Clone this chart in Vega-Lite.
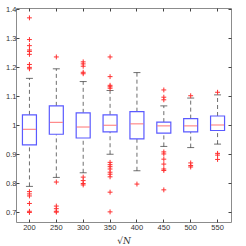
{
  "$schema": "https://vega.github.io/schema/vega-lite/v6.json",
  "width": 215,
  "height": 214,
  "autosize": "none",
  "padding": {"left": 16, "top": 8, "right": 15, "bottom": 24},
  "background": "white",
  "config": {
    "view": {"stroke": "#8c8c8c", "strokeWidth": 1},
    "axis": {"labelFont": "Liberation Sans", "labelFontSize": 7.5, "labelColor": "#333", "tickColor": "#444", "domain": false, "grid": false, "tickSize": -3}
  },
  "datasets": {
    "boxes": [
      {"N": "200", "lo": 0.789, "q1": 0.932, "med": 0.986, "q3": 1.036, "hi": 1.162},
      {"N": "250", "lo": 0.820, "q1": 0.969, "med": 1.010, "q3": 1.067, "hi": 1.195},
      {"N": "300", "lo": 0.836, "q1": 0.956, "med": 0.994, "q3": 1.043, "hi": 1.151},
      {"N": "350", "lo": 0.900, "q1": 0.977, "med": 1.000, "q3": 1.036, "hi": 1.120},
      {"N": "400", "lo": 0.843, "q1": 0.953, "med": 1.005, "q3": 1.047, "hi": 1.182},
      {"N": "450", "lo": 0.927, "q1": 0.973, "med": 0.998, "q3": 1.011, "hi": 1.067},
      {"N": "500", "lo": 0.923, "q1": 0.977, "med": 0.998, "q3": 1.023, "hi": 1.094},
      {"N": "550", "lo": 0.935, "q1": 0.982, "med": 1.001, "q3": 1.032, "hi": 1.105}
    ],
    "outliers": [
      {"N": "200", "v": 1.371}, {"N": "200", "v": 1.296}, {"N": "200", "v": 1.275}, {"N": "200", "v": 1.26}, {"N": "200", "v": 1.255}, {"N": "200", "v": 1.245}, {"N": "200", "v": 1.21}, {"N": "200", "v": 1.2}, {"N": "200", "v": 1.195}, {"N": "200", "v": 0.771}, {"N": "200", "v": 0.763}, {"N": "200", "v": 0.756}, {"N": "200", "v": 0.730}, {"N": "200", "v": 0.703}, {"N": "200", "v": 0.699},
      {"N": "250", "v": 1.236}, {"N": "250", "v": 0.804}, {"N": "250", "v": 0.721}, {"N": "250", "v": 0.712}, {"N": "250", "v": 0.703}, {"N": "250", "v": 0.700},
      {"N": "300", "v": 1.219}, {"N": "300", "v": 1.212}, {"N": "300", "v": 1.204}, {"N": "300", "v": 1.183}, {"N": "300", "v": 1.178}, {"N": "300", "v": 0.821}, {"N": "300", "v": 0.809}, {"N": "300", "v": 0.799}, {"N": "300", "v": 0.794},
      {"N": "350", "v": 1.236}, {"N": "350", "v": 1.168}, {"N": "350", "v": 1.138}, {"N": "350", "v": 1.133}, {"N": "350", "v": 1.128}, {"N": "350", "v": 0.872}, {"N": "350", "v": 0.864}, {"N": "350", "v": 0.857}, {"N": "350", "v": 0.849}, {"N": "350", "v": 0.838}, {"N": "350", "v": 0.831}, {"N": "350", "v": 0.822}, {"N": "350", "v": 0.769}, {"N": "350", "v": 0.701},
      {"N": "400", "v": 0.797},
      {"N": "450", "v": 1.122}, {"N": "450", "v": 1.097}, {"N": "450", "v": 1.088}, {"N": "450", "v": 0.908}, {"N": "450", "v": 0.901}, {"N": "450", "v": 0.883}, {"N": "450", "v": 0.866}, {"N": "450", "v": 0.849}, {"N": "450", "v": 0.844}, {"N": "450", "v": 0.777},
      {"N": "500", "v": 1.102}, {"N": "500", "v": 0.870}, {"N": "500", "v": 0.861}, {"N": "500", "v": 0.856},
      {"N": "550", "v": 1.114}, {"N": "550", "v": 0.903}, {"N": "550", "v": 0.897}, {"N": "550", "v": 0.882}
    ]
  },
  "resolve": {"axis": {"x": "independent", "y": "independent"}},
  "layer": [
    {
      "data": {"name": "boxes"},
      "mark": {"type": "rule", "color": "#6e6e6e", "strokeDash": [4, 3], "strokeWidth": 1},
      "encoding": {
        "x": {"field": "N", "type": "ordinal", "scale": {"paddingInner": 0, "paddingOuter": 0},
          "axis": {"title": "√N", "titleFont": "DejaVu Serif", "titleFontStyle": "italic", "titleFontWeight": "normal", "titleFontSize": 9, "titleColor": "#333", "titlePadding": 6, "labelAngle": 0, "labelPadding": 4}},
        "y": {"field": "q3", "type": "quantitative", "scale": {"domain": [0.666, 1.405], "nice": false, "zero": false},
          "axis": {"title": null, "values": [0.7, 0.8, 0.9, 1, 1.1, 1.2, 1.3, 1.4], "format": "~g", "labelPadding": 3}},
        "y2": {"field": "hi"}
      }
    },
    {
      "data": {"name": "boxes"},
      "mark": {"type": "rule", "color": "#6e6e6e", "strokeDash": [4, 3], "strokeWidth": 1},
      "encoding": {
        "x": {"field": "N", "type": "ordinal", "axis": {"orient": "top", "labels": false, "title": null}},
        "y": {"field": "lo", "type": "quantitative", "axis": {"orient": "right", "labels": false, "title": null, "values": [0.7, 0.8, 0.9, 1, 1.1, 1.2, 1.3, 1.4]}},
        "y2": {"field": "q1"}
      }
    },
    {
      "data": {"name": "boxes"},
      "mark": {"type": "tick", "color": "#333", "size": 7, "thickness": 1},
      "encoding": {
        "x": {"field": "N", "type": "ordinal", "axis": null},
        "y": {"field": "hi", "type": "quantitative", "axis": null}
      }
    },
    {
      "data": {"name": "boxes"},
      "mark": {"type": "tick", "color": "#333", "size": 7, "thickness": 1},
      "encoding": {
        "x": {"field": "N", "type": "ordinal", "axis": null},
        "y": {"field": "lo", "type": "quantitative", "axis": null}
      }
    },
    {
      "data": {"name": "boxes"},
      "mark": {"type": "bar", "fill": "white", "stroke": "#5a5aff", "strokeWidth": 1.2, "size": 14},
      "encoding": {
        "x": {"field": "N", "type": "ordinal", "axis": null},
        "y": {"field": "q1", "type": "quantitative", "axis": null},
        "y2": {"field": "q3"}
      }
    },
    {
      "data": {"name": "boxes"},
      "mark": {"type": "tick", "color": "#ff5a5a", "size": 13, "thickness": 1.2},
      "encoding": {
        "x": {"field": "N", "type": "ordinal", "axis": null},
        "y": {"field": "med", "type": "quantitative", "axis": null}
      }
    },
    {
      "data": {"name": "outliers"},
      "mark": {"type": "point", "shape": "M-1,0H1M0,-1V1", "size": 24, "stroke": "#ff3030", "strokeWidth": 1, "filled": false, "opacity": 1},
      "encoding": {
        "x": {"field": "N", "type": "ordinal", "axis": null},
        "y": {"field": "v", "type": "quantitative", "axis": null}
      }
    }
  ]
}
